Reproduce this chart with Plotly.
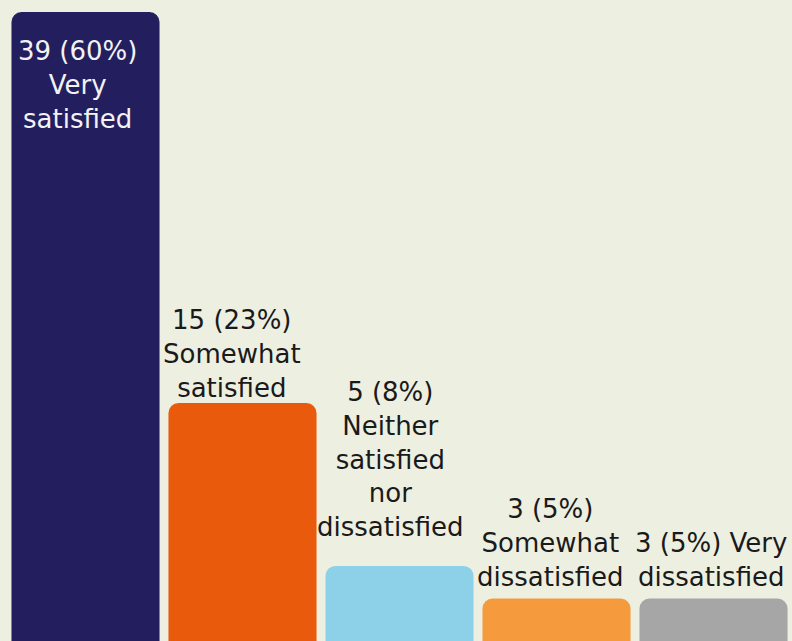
import plotly.graph_objects as go

# Survey responses: satisfaction level and count of respondents
categories = [
    "Very satisfied",
    "Somewhat satisfied",
    "Neither satisfied nor dissatisfied",
    "Somewhat dissatisfied",
    "Very dissatisfied",
]
label_lines = [
    "Very<br>satisfied",
    "Somewhat<br>satisfied",
    "Neither<br>satisfied<br>nor<br>dissatisfied",
    "Somewhat<br>dissatisfied",
    "Very<br>dissatisfied",
]
counts = [39, 15, 5, 3, 3]
colors = ["#231F5F", "#EA5A0D", "#8DD1E8", "#F59B3E", "#A6A6A6"]

# label placement tweaks (pixels) relative to each bar's top centre
label_xshift = [-8, -11, -9, -6, -3]
label_yshift = [-22, -2, 22, 4, 4]

FONT = "DejaVu Sans"
total = sum(counts)

fig = go.Figure(
    go.Bar(
        x=categories,
        y=counts,
        marker=dict(color=colors, line=dict(width=0)),
        cliponaxis=False,
        hoverinfo="skip",
    )
)

for i, (cat, c, lab) in enumerate(zip(categories, counts, label_lines)):
    pct = round(100 * c / total)
    head = f"{c} ({pct}%)"
    text = f"{head} {lab}" if i == 4 else f"{head}<br>{lab}"
    inside = i == 0
    fig.add_annotation(
        x=cat,
        y=c,
        text=text,
        showarrow=False,
        xanchor="center",
        yanchor="top" if inside else "bottom",
        xshift=label_xshift[i],
        yshift=label_yshift[i],
        align="center",
        font=dict(family=FONT, size=26, color="#F2F2F2" if inside else "#1A1A1A"),
    )

fig.update_layout(
    width=792,
    height=641,
    margin=dict(l=7, r=0, t=0, b=0),
    paper_bgcolor="#EDEFE1",
    plot_bgcolor="#EDEFE1",
    bargap=0.057,
    barcornerradius=10,
    showlegend=False,
    font=dict(family=FONT),
)
fig.update_xaxes(visible=False, range=[-0.5, len(categories) - 0.5])
fig.update_yaxes(visible=False, range=[0.39, 39.74])

fig.write_html("out.html")
